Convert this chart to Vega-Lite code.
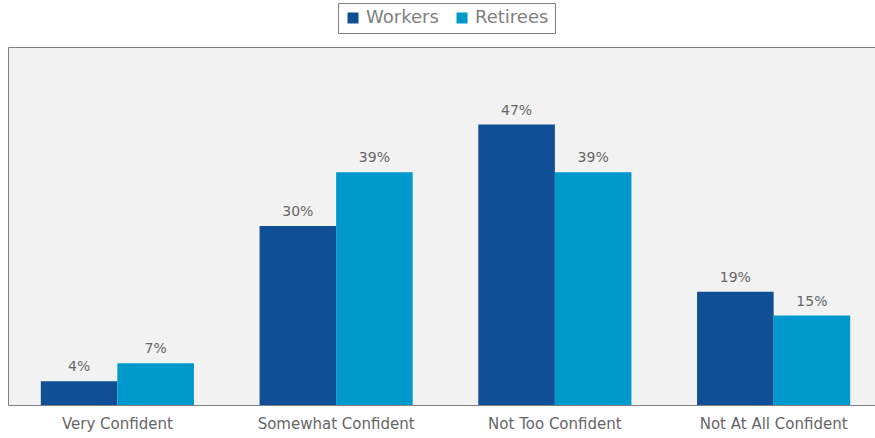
{
  "$schema": "https://vega.github.io/schema/vega-lite/v6.json",
  "width": 875,
  "height": 358,
  "autosize": {"type": "none"},
  "padding": {"left": 8, "top": 47, "right": 0, "bottom": 33},
  "background": "white",
  "config": {
    "view": {"fill": "#f2f2f2", "stroke": "#808080", "strokeWidth": 1},
    "font": "DejaVu Sans"
  },
  "data": {
    "values": [
      {"category": "Very Confident", "group": "Workers", "value": 0.04},
      {"category": "Very Confident", "group": "Retirees", "value": 0.07},
      {"category": "Somewhat Confident", "group": "Workers", "value": 0.30},
      {"category": "Somewhat Confident", "group": "Retirees", "value": 0.39},
      {"category": "Not Too Confident", "group": "Workers", "value": 0.47},
      {"category": "Not Too Confident", "group": "Retirees", "value": 0.39},
      {"category": "Not At All Confident", "group": "Workers", "value": 0.19},
      {"category": "Not At All Confident", "group": "Retirees", "value": 0.15}
    ]
  },
  "encoding": {
    "x": {
      "field": "category",
      "type": "nominal",
      "sort": ["Very Confident", "Somewhat Confident", "Not Too Confident", "Not At All Confident"],
      "scale": {"paddingInner": 0.3, "paddingOuter": 0.15},
      "axis": {
        "title": null,
        "labelAngle": 0,
        "ticks": false,
        "domain": false,
        "labelFontSize": 15,
        "labelColor": "#666666",
        "labelPadding": 11,
        "labelFont": "DejaVu Sans"
      }
    },
    "xOffset": {"field": "group", "type": "nominal", "sort": ["Workers", "Retirees"]},
    "y": {
      "field": "value",
      "type": "quantitative",
      "scale": {"domain": [0, 0.6]},
      "axis": null
    }
  },
  "layer": [
    {
      "mark": {"type": "bar"},
      "encoding": {
        "color": {
          "field": "group",
          "type": "nominal",
          "sort": ["Workers", "Retirees"],
          "scale": {"domain": ["Workers", "Retirees"], "range": ["#104e95", "#0099cc"]},
          "legend": {
            "title": null,
            "orient": "none",
            "direction": "horizontal",
            "legendX": 330,
            "legendY": -44,
            "symbolType": "square",
            "symbolSize": 121,
            "symbolStrokeWidth": 0,
            "labelFontSize": 18,
            "labelColor": "#7f7f7f",
            "labelFont": "DejaVu Sans",
            "strokeColor": "#808080",
            "fillColor": "white",
            "padding": 6,
            "columnPadding": 14,
            "labelOffset": 4
          }
        }
      }
    },
    {
      "mark": {"type": "text", "baseline": "bottom", "dy": -7, "fontSize": 14, "color": "#666666", "font": "DejaVu Sans"},
      "encoding": {
        "text": {"field": "value", "type": "quantitative", "format": ".0%"},
        "detail": {"field": "group"}
      }
    }
  ]
}
